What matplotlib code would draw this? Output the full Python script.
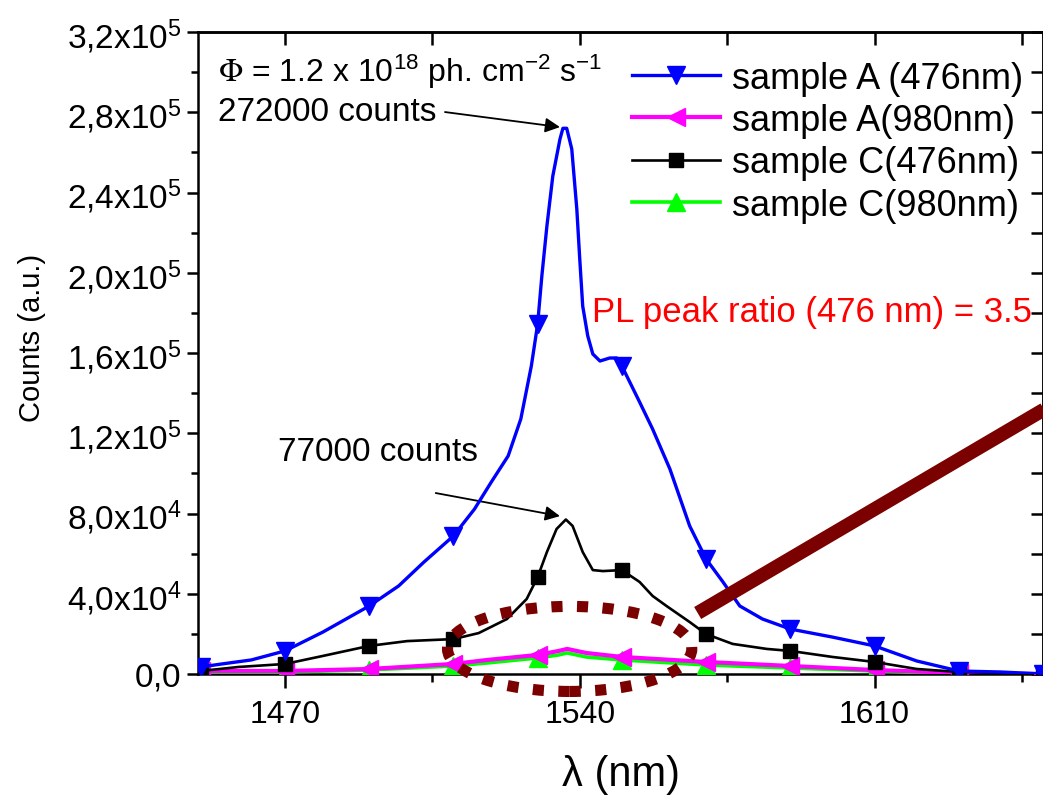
import numpy as np
import matplotlib
matplotlib.use("Agg")
import matplotlib.pyplot as plt
from matplotlib import font_manager
from matplotlib.patches import Ellipse
from matplotlib.ticker import MultipleLocator, FuncFormatter

plt.rcParams['font.family'] = ['Liberation Sans', 'DejaVu Sans']
plt.rcParams['mathtext.fontset'] = 'stix'

names = {f.name for f in font_manager.fontManager.ttflist}
narrow = 'Liberation Sans Narrow' if 'Liberation Sans Narrow' in names else 'Liberation Sans'

#%% data
wl_a476 = [1450, 1455, 1462, 1470, 1479, 1490, 1497, 1503, 1510, 1515, 1519, 1523, 1526,
           1528.5, 1530, 1531, 1532.2, 1533.6, 1535.3, 1536, 1536.9, 1538.1, 1539.3, 1540,
           1540.7, 1541.9, 1543.1, 1544.8, 1547.1, 1548.8, 1550, 1554.2, 1557.3, 1561.4,
           1566.1, 1570, 1574, 1578, 1583.4, 1590, 1600, 1610, 1620, 1628, 1630, 1640, 1650]
cnt_a476 = [3500, 5000, 7000, 11500, 20900, 33900, 43900, 55800, 68800, 82200, 95700, 108700,
            127100, 153500, 174400, 198400, 223300, 248200, 266600, 272000, 272000, 261700,
            231800, 206800, 183400, 168500, 159500, 156000, 157500, 157500, 153500, 135600,
            122100, 102200, 73800, 57300, 45900, 33900, 27400, 22400, 18400, 14000, 6500,
            2500, 1500, 1000, 0]

wl_c476 = [1450, 1459, 1470, 1479, 1490, 1499, 1510, 1516, 1522.7, 1527.4, 1530, 1532.2,
           1534.5, 1536.7, 1538.3, 1540.7, 1543.1, 1545.5, 1550, 1554.2, 1557.3, 1560.6,
           1566.1, 1570, 1576.3, 1584.4, 1590, 1600, 1610, 1620, 1630, 1640, 1650]
cnt_c476 = [1500, 3500, 5000, 9000, 14000, 16400, 17400, 20400, 27400, 37400, 48300, 60800,
            72300, 77000, 73800, 60800, 51800, 51300, 51800, 45900, 38900, 33900, 25900,
            19900, 15000, 12500, 11500, 8500, 6000, 2500, 1000, 500, 0]

wl_980 = [1450, 1470, 1490, 1510, 1518, 1530, 1535, 1537, 1541.5, 1550, 1558, 1570, 1590,
          1610, 1630, 1650]
cnt_a980 = [1500, 1500, 2500, 5000, 7000, 9500, 11500, 12500, 10500, 8500, 7500, 6000, 4000,
            2000, 500, 0]
cnt_c980 = [1000, 1000, 2000, 4000, 5500, 8000, 9500, 10500, 8500, 7000, 6000, 4500, 3000,
            1500, 0, -500]

marker_wl = [1450, 1470, 1490, 1510, 1530, 1550, 1570, 1590, 1610, 1630, 1650]

y_ticks = [0, 4e4, 8e4, 1.2e5, 1.6e5, 2.0e5, 2.4e5, 2.8e5, 3.2e5]
x_ticks = [1470, 1540, 1610]


def marks(wl):
    return [i for i, w in enumerate(wl) if w in marker_wl]


#%% figure
fig = plt.figure(figsize=(10.43, 8.03), dpi=100)
ax = fig.add_axes([198/1043, 128/803, 845/1043, 642/803])

ax.plot(wl_a476, cnt_a476, color='#0000ff', lw=2.4, marker='v', ms=13,
        markevery=marks(wl_a476), label='sample A (476nm)', zorder=5)
ax.plot(wl_980, cnt_a980, color='#ff00ff', lw=3.0, marker='<', ms=13,
        markevery=marks(wl_980), label='sample A(980nm)', zorder=4)
ax.plot(wl_c476, cnt_c476, color='black', lw=1.9, marker='s', ms=10,
        markevery=marks(wl_c476), label='sample C(476nm)', zorder=4)
ax.plot(wl_980, cnt_c980, color='#00ff00', lw=2.6, marker='^', ms=13,
        markevery=marks(wl_980), label='sample C(980nm)', zorder=3)

ax.set_xlim(1449.35, 1650)
ax.set_ylim(0, 3.2e5)

ax.xaxis.set_major_locator(MultipleLocator(70))
ax.xaxis.set_minor_locator(MultipleLocator(35))
ax.set_xticks(x_ticks)
ax.set_yticks(y_ticks)
ax.yaxis.set_minor_locator(MultipleLocator(2e4))


def yfmt(v, pos):
    if v == 0:
        return r'$\mathregular{0{,}0}$'
    e = int(np.floor(np.log10(v)))
    m = ('%.1f' % (v / 10**e)).replace('.', '{,}')
    return r'$\mathregular{%sx10^{%d}}$' % (m, e)


ax.yaxis.set_major_formatter(FuncFormatter(yfmt))
ax.tick_params(axis='y', which='major', labelsize=24, length=8, width=1.8, direction='out', pad=4)
ax.tick_params(axis='y', which='minor', length=5, width=1.8, direction='out')
ax.tick_params(axis='x', which='major', labelsize=23, length=10, width=1.8, direction='out', pad=8)
ax.tick_params(axis='x', which='minor', length=6, width=1.8, direction='out')
for lab in ax.get_xticklabels():
    lab.set_family(narrow)

top = ax.secondary_xaxis('top')
top.xaxis.set_major_locator(MultipleLocator(70))
top.xaxis.set_minor_locator(MultipleLocator(35))
top.tick_params(which='both', direction='in', length=9, width=1.8, labeltop=False)
right = ax.secondary_yaxis('right')
right.yaxis.set_major_locator(MultipleLocator(4e4))
right.yaxis.set_minor_locator(MultipleLocator(2e4))
right.tick_params(which='both', direction='in', length=9, width=1.8, labelright=False)
for s in list(ax.spines.values()) + [top.spines['top'], right.spines['right']]:
    s.set_linewidth(1.8)

ax.set_xlabel('λ (nm)', fontsize=30, family=narrow, labelpad=18)
ax.set_ylabel('Counts (a.u.)', fontsize=21, family=narrow)
ax.yaxis.set_label_coords(-0.18, 0.525)

ax.legend(loc='upper left', bbox_to_anchor=(0.5136, 0.955), frameon=False, fontsize=26,
          handlelength=2.45, handletextpad=0.33, labelspacing=0.2, borderpad=0,
          borderaxespad=0)

#%% annotations
ax.text(1454.1, 300500,
        r'$\Phi$ = 1.2 x 10$\mathregular{^{18}}$ ph. cm$\mathregular{^{-2}}$ s$\mathregular{^{-1}}$',
        fontsize=23, ha='left', va='center')
ax.text(1454.1, 280600, '272000 counts', fontsize=24, ha='left', va='center')
ax.annotate('', xy=(1535.3, 272600), xytext=(1508, 280100),
            arrowprops=dict(arrowstyle='-|>', color='black', lw=1.3, mutation_scale=22,
                            shrinkA=0, shrinkB=0))
ax.text(1468.3, 111100, '77000 counts', fontsize=24, ha='left', va='center')
ax.annotate('', xy=(1535.3, 78700), xytext=(1505.8, 90200),
            arrowprops=dict(arrowstyle='-|>', color='black', lw=1.3, mutation_scale=22,
                            shrinkA=0, shrinkB=0))
ax.text(1542.9, 180900, 'PL peak ratio (476 nm) = 3.5', fontsize=25, color='red',
        ha='left', va='center')

ax.add_patch(Ellipse((1537.6, 12500), 58, 42400, fill=False, edgecolor='#7b0000',
                     lw=8, linestyle=(0, (1.0, 1.3)), clip_on=False, zorder=6))
ax.plot([1568, 1652], [30400, 134000], color='#7b0000', lw=10, solid_capstyle='butt',
        clip_on=False, zorder=6)

fig.savefig('out.png', dpi=100)
